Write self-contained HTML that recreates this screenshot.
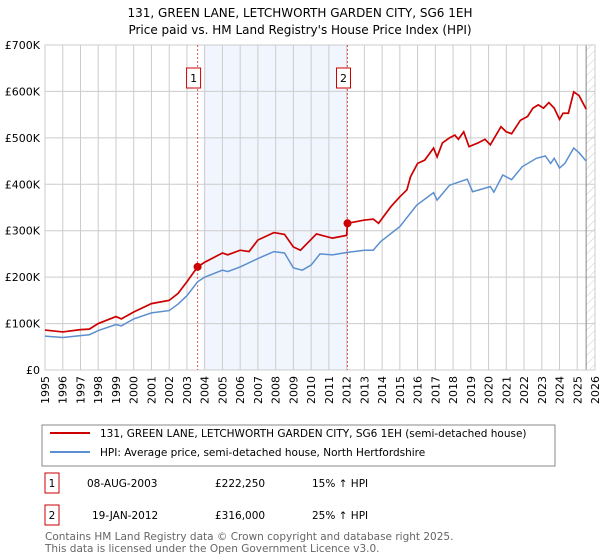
<!DOCTYPE html>
<html><head><meta charset="utf-8"><style>
body{margin:0;background:#fff;font-family:"DejaVu Sans","Liberation Sans",sans-serif;}
svg{display:block}
</style></head><body>
<svg id="c" width="600" height="560" xmlns="http://www.w3.org/2000/svg" font-family="DejaVu Sans, Liberation Sans, sans-serif">
<text x="300" y="17" text-anchor="middle" font-size="12">131, GREEN LANE, LETCHWORTH GARDEN CITY, SG6 1EH</text>
<text x="300" y="34" text-anchor="middle" font-size="12">Price paid vs. HM Land Registry's House Price Index (HPI)</text>
<defs><pattern id="hatch" width="6" height="6" patternUnits="userSpaceOnUse" patternTransform="rotate(45)"><line x1="0" y1="0" x2="0" y2="6" stroke="#ccc" stroke-width="1"/></pattern></defs>
<g id="plot"></g>
<rect x="42" y="425" width="513" height="41" fill="#fff" stroke="#888"/>
<line x1="50" y1="433" x2="90" y2="433" stroke="#cc0000" stroke-width="2"/>
<text x="100" y="437" font-size="10.5">131, GREEN LANE, LETCHWORTH GARDEN CITY, SG6 1EH (semi-detached house)</text>
<line x1="50" y1="452" x2="90" y2="452" stroke="#5b8fd0" stroke-width="2"/>
<text x="100" y="456" font-size="10.5">HPI: Average price, semi-detached house, North Hertfordshire</text>
<g font-size="10.5">
<rect x="45" y="473" width="14" height="20" fill="#fff" stroke="#cc0000"/>
<text x="52" y="487" text-anchor="middle">1</text>
<text x="87" y="487">08-AUG-2003</text>
<text x="215" y="487">£222,250</text>
<text x="312" y="487">15% ↑ HPI</text>
<rect x="45" y="505" width="14" height="20" fill="#fff" stroke="#cc0000"/>
<text x="52" y="519" text-anchor="middle">2</text>
<text x="92" y="519">19-JAN-2012</text>
<text x="215" y="519">£316,000</text>
<text x="312" y="519">25% ↑ HPI</text>
</g>
<text x="45" y="540" font-size="10.5" fill="#666">Contains HM Land Registry data © Crown copyright and database right 2025.</text>
<text x="45" y="552" font-size="10.5" fill="#666">This data is licensed under the Open Government Licence v3.0.</text>
</svg>
<script>
const hpiYears=[1995,1996,1997,1997.5,1998,1999,1999.3,2000,2001,2002,2002.5,2003,2003.6,2004,2005,2005.3,2006,2007,2007.9,2008.5,2009,2009.5,2010,2010.5,2011.2,2012,2013,2013.5,2013.9,2015,2015.95,2016.9,2017.1,2017.8,2018.8,2019.1,2020.1,2020.3,2020.8,2021.3,2021.9,2022.7,2023.2,2023.5,2023.7,2024.0,2024.3,2024.8,2025.1,2025.5];
const hpiValues=[73,70,74,76,85,98,95,110,123,128,142,160,190,200,215,212,222,240,255,252,220,215,226,250,248,253,258,258,276,309,355,382,366,398,411,384,395,383,420,410,438,456,461,445,456,435,445,478,468,450];
const priceYears=[1995,1996,1997,1997.5,1998,1999,1999.3,2000,2001,2002,2002.5,2003,2003.6,2004,2005,2005.3,2006,2006.5,2007,2007.9,2008.5,2009,2009.4,2010.3,2011.2,2012.0,2012.05,2013,2013.5,2013.8,2014.5,2015.0,2015.4,2015.6,2016.0,2016.4,2016.9,2017.1,2017.4,2017.8,2018.1,2018.3,2018.6,2018.9,2019.4,2019.8,2020.1,2020.7,2021.0,2021.3,2021.8,2022.2,2022.5,2022.8,2023.1,2023.4,2023.7,2024.0,2024.2,2024.5,2024.8,2025.1,2025.5];
const priceValues=[86,82,87,88,100,115,110,125,143,150,165,190,222,232,252,248,258,255,280,296,292,265,258,293,284,290,316,323,325,316,352,373,388,416,445,452,478,459,489,500,506,497,513,481,489,497,485,524,513,509,538,546,564,571,564,576,564,540,553,553,599,591,562];
const sales=[{y:2003.6,v:222.25,l:'1'},{y:2012.05,v:316,l:'2'}];
const yTicks=[0,100,200,300,400,500,600,700];
const yTickLabels=['£0','£100K','£200K','£300K','£400K','£500K','£600K','£700K'];
const xTicks=[];for(let y=1995;y<=2026;y++)xTicks.push(y);

const NS='http://www.w3.org/2000/svg';
const L=45,R=595,T=45,B=370;
const sx=y=>L+(y-1995)/(2026-1995)*(R-L);
const sy=v=>B-v/700*(B-T);
const g=document.getElementById('plot');
function mk(tag,attrs,parent){const e=document.createElementNS(NS,tag);for(const k in attrs)e.setAttribute(k,attrs[k]);(parent||g).appendChild(e);return e;}
const bg=mk('rect',{x:L,y:T,width:R-L,height:B-T,fill:'#fff'});


const shade=mk('rect',{x:sx(2003.95),y:T,width:sx(sales[1].y)-sx(2003.95),height:B-T,fill:'#eef3fc',opacity:0.8});


const hatch=mk('rect',{x:sx(2025.5),y:T,width:R-sx(2025.5),height:B-T,fill:'url(#hatch)'});


xTicks.forEach(y=>{const l=mk('line',{x1:sx(y),x2:sx(y),y1:T,y2:B,stroke:'#ccc','stroke-width':1});


const t=mk('text',{x:0,y:0,'font-size':11,'text-anchor':'end',transform:`translate(${sx(y)+4},${B+6}) rotate(-90)`});t.textContent=y;

});
yTicks.forEach((v,i)=>{const l=mk('line',{x1:L,x2:R,y1:sy(v),y2:sy(v),stroke:'#ccc','stroke-width':1});


const t=mk('text',{x:L-5,y:sy(v)+4,'font-size':11,'text-anchor':'end'});t.textContent=yTickLabels[i];

});
const endL=mk('line',{x1:sx(2025.5),x2:sx(2025.5),y1:T,y2:B,stroke:'#888'});


const frame=mk('rect',{x:L,y:T,width:R-L,height:B-T,fill:'none',stroke:'#ccc'});


sales.forEach(s=>{const l=mk('line',{x1:sx(s.y),x2:sx(s.y),y1:T,y2:B,stroke:'#e05555','stroke-dasharray':'2,2'});


const bx=mk('rect',{x:sx(s.y)-11,y:68,width:14,height:20,fill:'#fff',stroke:'#cc0000'});


const t=mk('text',{x:sx(s.y)-4,y:82,'font-size':11,'text-anchor':'middle'});t.textContent=s.l;

});
const hp=mk('polyline',{points:hpiYears.map((y,i)=>sx(y)+','+sy(hpiValues[i])).join(' '),fill:'none',stroke:'#5b8fd0','stroke-width':1.5});


const pp=mk('polyline',{points:priceYears.map((y,i)=>sx(y)+','+sy(priceValues[i])).join(' '),fill:'none',stroke:'#cc0000','stroke-width':1.7});


sales.forEach(s=>{const c=mk('circle',{cx:sx(s.y),cy:sy(s.v),r:4,fill:'#cc0000'});

});
</script>
</body></html>
